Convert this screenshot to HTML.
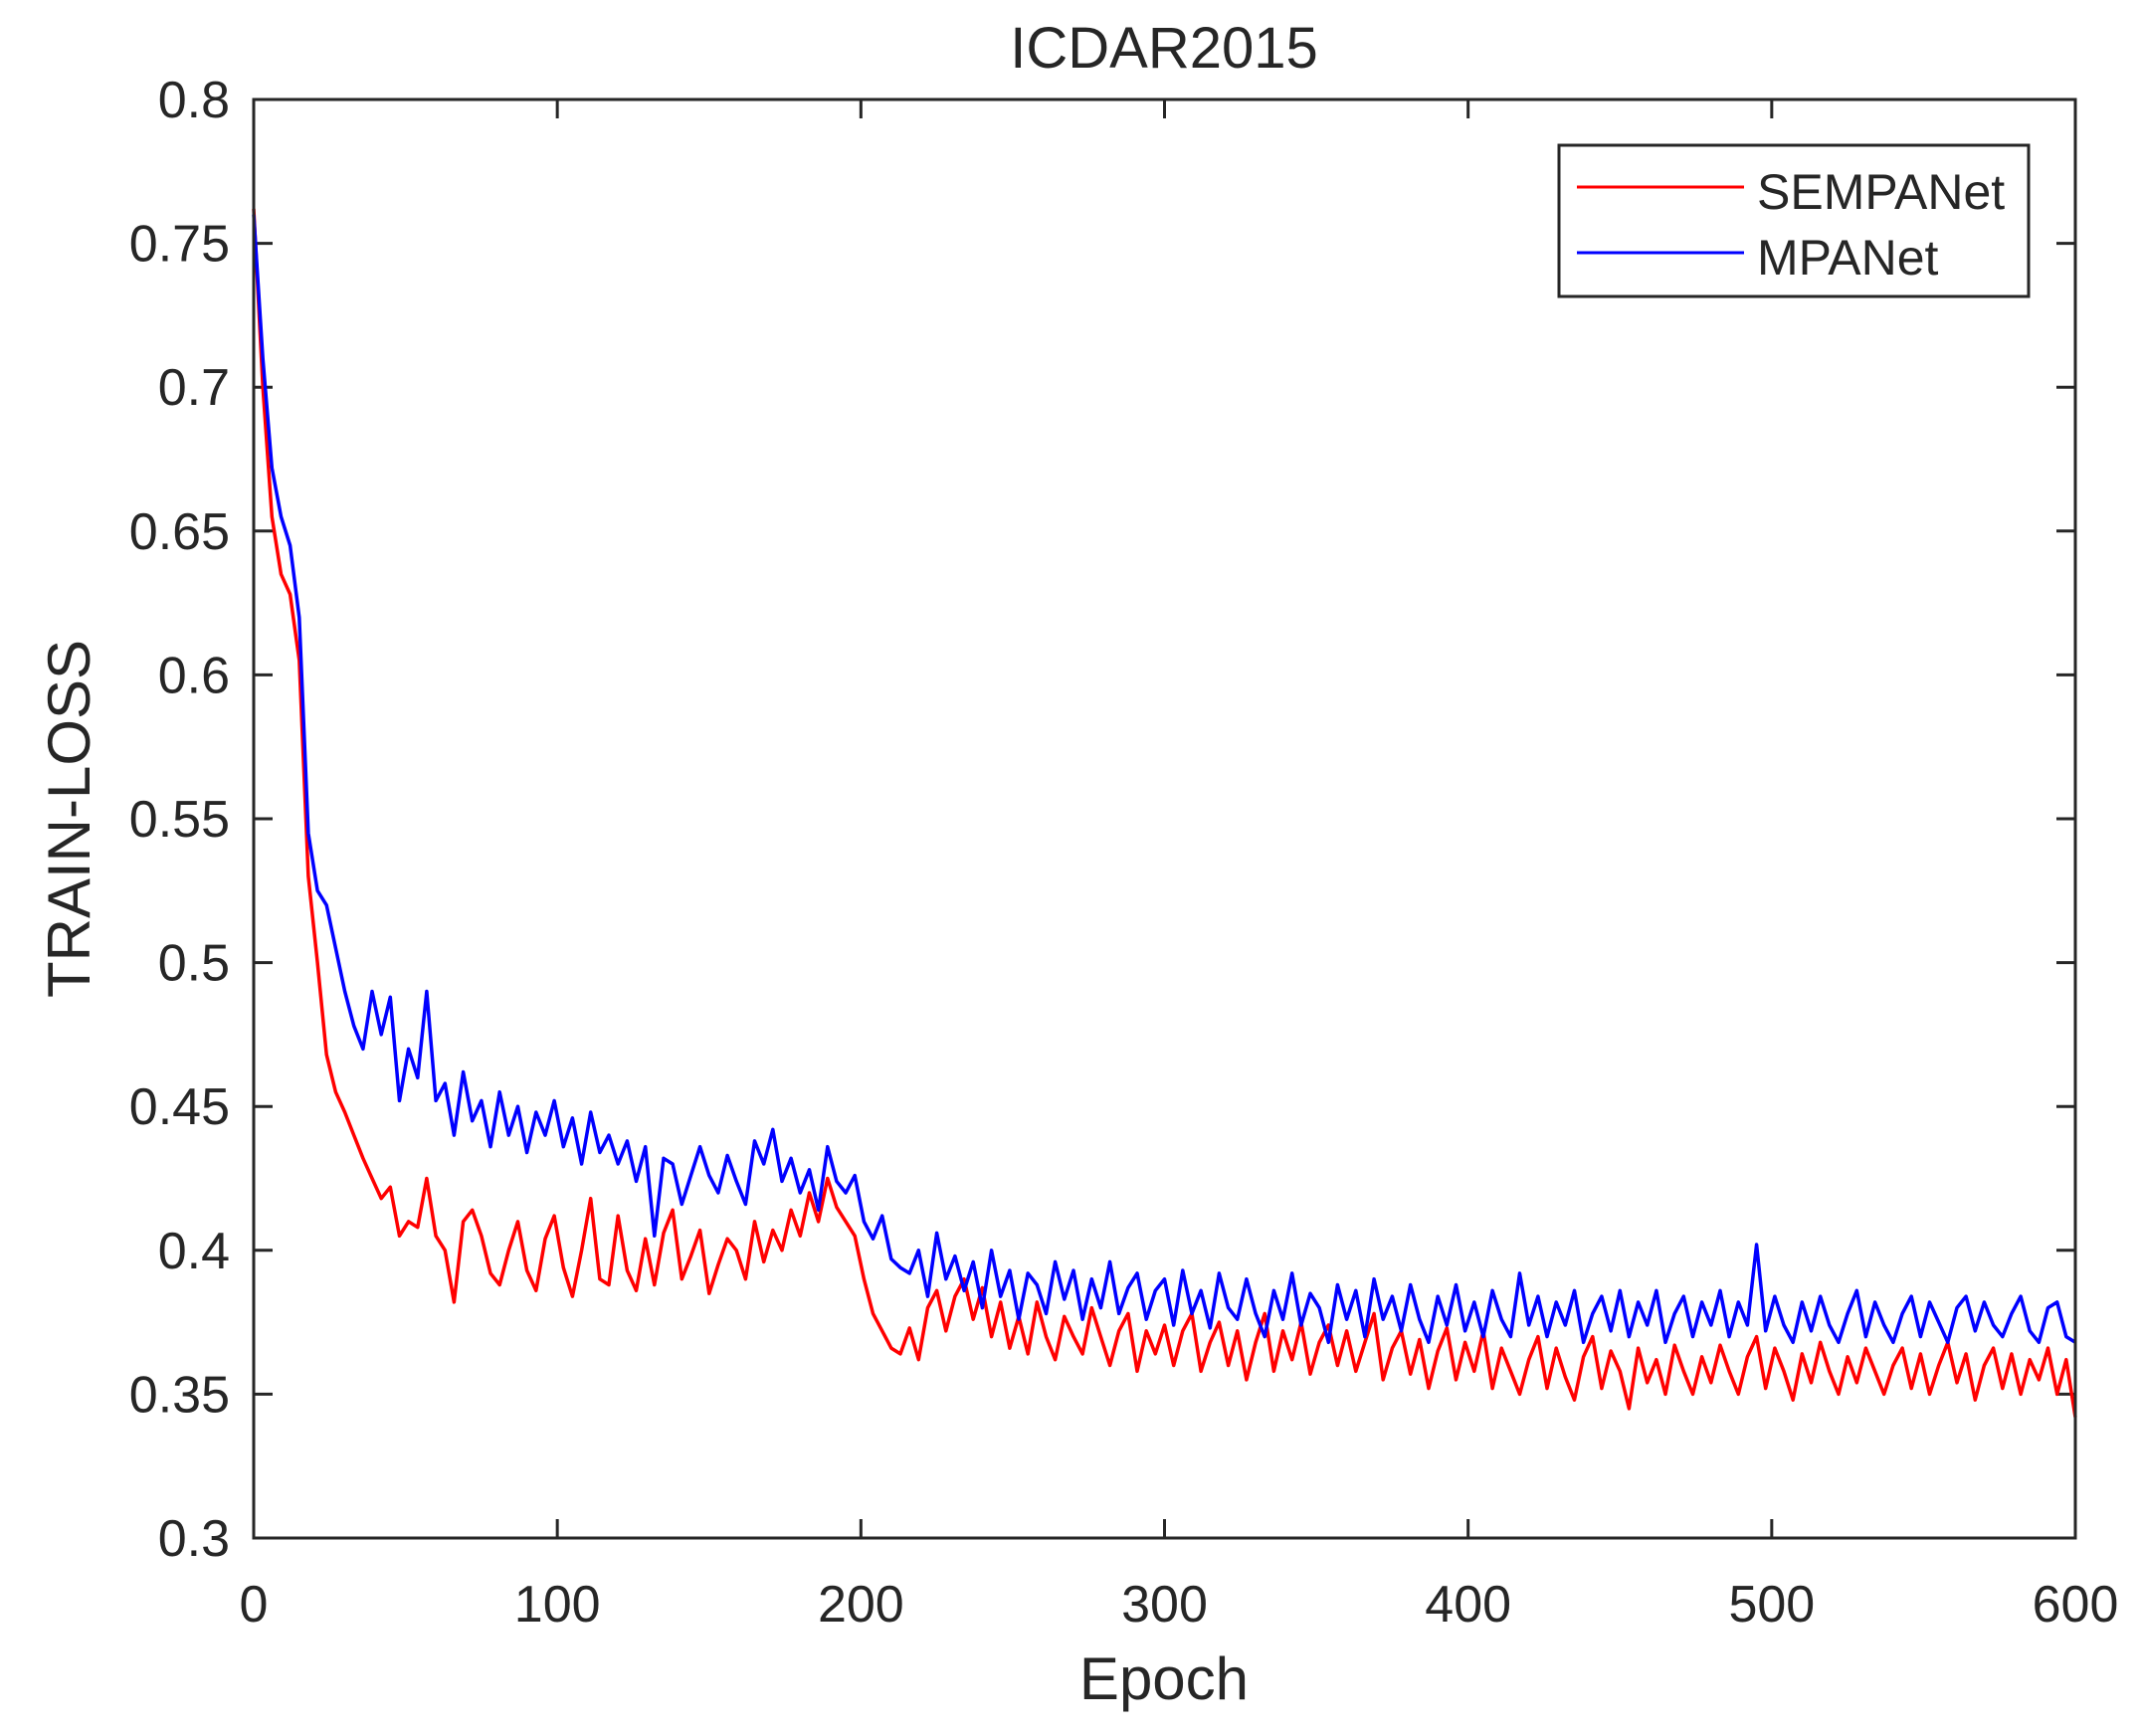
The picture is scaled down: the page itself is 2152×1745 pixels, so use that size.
<!DOCTYPE html>
<html><head><meta charset="utf-8">
<style>
html,body{margin:0;padding:0;background:#fff;}
svg{display:block;font-family:"Liberation Sans",Arial,sans-serif;}
</style></head>
<body>
<svg id="chart" width="2152" height="1745" viewBox="0 0 2152 1745" xmlns="http://www.w3.org/2000/svg">
<rect width="2152" height="1745" fill="#fff"/>
<text x="1170" y="68" font-size="58" text-anchor="middle" fill="#262626">ICDAR2015</text>
<text x="1170" y="1708" font-size="60" text-anchor="middle" fill="#262626">Epoch</text>
<text transform="translate(90,823) rotate(-90)" font-size="60" text-anchor="middle" fill="#262626">TRAIN-LOSS</text>
<g id="ticks"></g>
<g id="series"></g>
<rect x="255" y="100" width="1831" height="1446" fill="none" stroke="#262626" stroke-width="3"/>
<g>
<rect x="1567" y="146" width="472" height="152" fill="#fff" stroke="#262626" stroke-width="3"/>
<line x1="1585" y1="188" x2="1753" y2="188" stroke="#ff0000" stroke-width="3"/>
<text x="1766" y="210" font-size="50" fill="#262626">SEMPANet</text>
<line x1="1585" y1="254" x2="1753" y2="254" stroke="#0000ff" stroke-width="3"/>
<text x="1766" y="276" font-size="50" fill="#262626">MPANet</text>
</g>
</svg>
<script>
const xTicks = [0,100,200,300,400,500,600];
const yTicks = [0.3,0.35,0.4,0.45,0.5,0.55,0.6,0.65,0.7,0.75,0.8];
const yTickLabels = ["0.3","0.35","0.4","0.45","0.5","0.55","0.6","0.65","0.7","0.75","0.8"];
const epochStep = 3;
const sempanet = [
.762,.70,.655,.635,.628,.605,.53,.50,.468,.455,.448,.44,.432,.425,.418,.422,.405,.41,.408,.425,
.405,.40,.382,.41,.414,.405,.392,.388,.40,.41,.393,.386,.404,.412,.394,.384,.40,.418,.39,.388,
.412,.393,.386,.404,.388,.406,.414,.39,.398,.407,.385,.395,.404,.40,.39,.41,.396,.407,.40,.414,
.405,.42,.41,.425,.415,.41,.405,.39,.378,.372,.366,.364,.373,.362,.38,.386,.372,.384,.39,.376,
.387,.37,.382,.366,.377,.364,.382,.37,.362,.377,.37,.364,.38,.37,.36,.372,.378,.358,.372,.364,
.374,.36,.372,.378,.358,.368,.375,.36,.372,.355,.368,.378,.358,.372,.362,.375,.357,.368,.374,.36,
.372,.358,.368,.378,.355,.366,.372,.357,.369,.352,.365,.373,.355,.368,.358,.372,.352,.366,.358,.35,
.362,.37,.352,.366,.356,.348,.363,.37,.352,.365,.358,.345,.366,.354,.362,.35,.367,.358,.35,.363,
.354,.367,.358,.35,.363,.37,.352,.366,.358,.348,.364,.354,.368,.358,.35,.363,.354,.366,.358,.35,
.36,.366,.352,.364,.35,.36,.368,.354,.364,.348,.36,.366,.352,.364,.35,.362,.355,.366,.35,.362,
.342];
const mpanet = [
.76,.71,.672,.655,.645,.62,.545,.525,.52,.505,.49,.478,.47,.49,.475,.488,.452,.47,.46,.49,
.452,.458,.44,.462,.445,.452,.436,.455,.44,.45,.434,.448,.44,.452,.436,.446,.43,.448,.434,.44,
.43,.438,.424,.436,.405,.432,.43,.416,.426,.436,.426,.42,.433,.424,.416,.438,.43,.442,.424,.432,
.42,.428,.414,.436,.424,.42,.426,.41,.404,.412,.397,.394,.392,.40,.384,.406,.39,.398,.386,.396,
.38,.4,.384,.393,.376,.392,.388,.378,.396,.383,.393,.376,.39,.38,.396,.378,.387,.392,.376,.386,
.39,.374,.393,.378,.386,.373,.392,.38,.376,.39,.378,.37,.386,.376,.392,.374,.385,.38,.368,.388,
.376,.386,.37,.39,.376,.384,.372,.388,.376,.368,.384,.374,.388,.372,.382,.37,.386,.376,.37,.392,
.374,.384,.37,.382,.374,.386,.368,.378,.384,.372,.386,.37,.382,.374,.386,.368,.378,.384,.37,.382,
.374,.386,.37,.382,.374,.402,.372,.384,.374,.368,.382,.372,.384,.374,.368,.378,.386,.37,.382,.374,
.368,.378,.384,.37,.382,.375,.368,.38,.384,.372,.382,.374,.37,.378,.384,.372,.368,.38,.382,.37,
.368];

const L=255,R=2086,T=100,B=1546,NS='http://www.w3.org/2000/svg';
function xs(v){return L+(v-0)/(600-0)*(R-L);}
function ys(v){return B-(v-0.3)/(0.8-0.3)*(B-T);}
const tg=document.getElementById('ticks');
function mk(tag,attrs,parent){const e=document.createElementNS(NS,tag);for(const k in attrs)e.setAttribute(k,attrs[k]);parent.appendChild(e);return e;}
xTicks.forEach(v=>{
  const x=xs(v);
  const t1=mk('line',{x1:x,y1:B,x2:x,y2:B-19,stroke:'#262626','stroke-width':3},tg);
  
  
  const t2=mk('line',{x1:x,y1:T,x2:x,y2:T+19,stroke:'#262626','stroke-width':3},tg);
  
  
  const lb=mk('text',{x:x,y:1630,'font-size':52,'text-anchor':'middle',fill:'#262626'},tg);
  lb.textContent=String(v);
  
  
});
yTicks.forEach((v,i)=>{
  const y=ys(v);
  const t1=mk('line',{x1:L,y1:y,x2:L+19,y2:y,stroke:'#262626','stroke-width':3},tg);
  
  
  const t2=mk('line',{x1:R,y1:y,x2:R-19,y2:y,stroke:'#262626','stroke-width':3},tg);
  
  
  const lb=mk('text',{x:231,y:y+18,'font-size':52,'text-anchor':'end',fill:'#262626'},tg);
  lb.textContent=yTickLabels[i];
  
  
});
const sg=document.getElementById('series');
function line(data,color,name){
  const pts=data.map((v,i)=>xs(Math.min(i*epochStep,600)).toFixed(1)+','+ys(v).toFixed(1)).join(' ');
  const p=mk('polyline',{points:pts,fill:'none',stroke:color,'stroke-width':3.5,'stroke-linejoin':'round'},sg);
  
  
}
line(sempanet,'#ff0000','sempanet-line');
line(mpanet,'#0000ff','mpanet-line');
</script>
</body></html>
